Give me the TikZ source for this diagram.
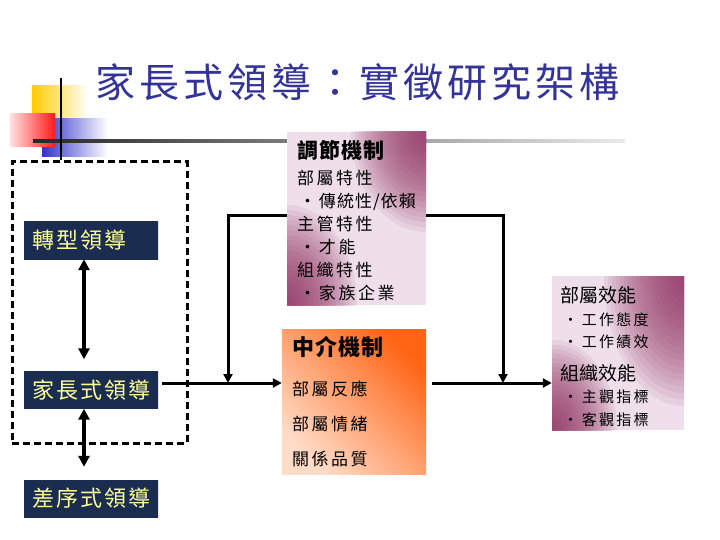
\documentclass[tikz,border=0pt]{standalone}
\usepackage{fontspec}
\setmainfont{Noto Sans CJK TC}
\newfontfamily\cjk{Noto Sans CJK TC}
\newfontfamily\cjkls{Noto Sans CJK TC}[LetterSpace=15]
\newfontfamily\cjkmid{Noto Sans CJK TC}[LetterSpace=10]
\newfontfamily\cjkb{Noto Sans CJK TC}[LetterSpace=5]
\newfontfamily\cjkt{Noto Sans CJK TC}[LetterSpace=6]
\usetikzlibrary{arrows.meta,calc}
\definecolor{titleblue}{HTML}{333399}
\definecolor{navyd}{HTML}{1A2C50}
\definecolor{navyl}{HTML}{6A84A8}
\definecolor{txtyel}{HTML}{FFFF99}
\definecolor{mauved}{HTML}{8E2A5C}
\definecolor{mauvel}{HTML}{EEDFEA}
\definecolor{orangd}{HTML}{FF6414}
\definecolor{orangl}{HTML}{FFDCC8}
\definecolor{decoyel}{HTML}{FFCC00}
\definecolor{decoblue}{HTML}{3333CC}
\definecolor{decored}{HTML}{FF1A1A}
\tikzset{
  leadbox/.style={inner xsep=8pt, inner ysep=0pt, text width=118pt, minimum height=37pt,
    align=left, left color=navyd, middle color=navyl, right color=navyd,
    text=txtyel, font=\cjkmid\fontsize{22}{22}\selectfont},
  mauvebox/.style n args={4}{inner ysep=0pt, align=left, fill=mauvel,
    path picture={
      \foreach \k in {1,...,20}{
        \fill[mauved, opacity=0.08] (path picture bounding box.north east) ellipse ({#1pt*\k/20} and {#2pt*\k/20});
        \fill[mauved, opacity=0.08] (path picture bounding box.south west) ellipse ({#3pt*\k/20} and {#4pt*\k/20});
      }}},
  orangebox/.style={inner ysep=0pt, align=left, top color=orangd, bottom color=orangl,
    shading angle=-45},
  dblarrow/.style={line width=3.5pt, {Triangle[length=11pt,width=11pt]}-{Triangle[length=11pt,width=11pt]}},
  conn/.style={line width=3pt, -{Triangle[length=9pt,width=9pt]}},
}
\begin{document}
\begin{tikzpicture}[x=1pt,y=-1pt]
\useasboundingbox[fill=white] (0,0) rectangle (720,540);
% decoration
\shade[left color=decoyel, middle color=decoyel, right color=white] (32,86) rectangle (88,128);
\shade[left color=decoblue, middle color=decoblue, right color=white] (42,119) rectangle (108,157);
\shade[left color=red!12, right color=decored] (10,114) rectangle (55,147);
\shade[left color=black!85, middle color=black!50, right color=black!8] (33,139.5) rectangle (625,142.5);
\draw[line width=2pt] (61,78) -- (61,160);
% title
\node[text=titleblue, font=\cjkmid\fontsize{40}{40}\selectfont, inner sep=0pt] (title) at (357,82) {家長式領導：實徵研究架構};
% group
\node[draw, line width=3pt, dash pattern=on 7pt off 4pt, minimum width=175pt, minimum height=281pt, inner sep=0pt] (grp) at (99.5,302.5) {};
% leadership boxes
\node[leadbox] (zx) at (91,240.5) {轉型領導};
\node[leadbox] (jz) at (91,390) {家長式領導};
\node[leadbox] (cx) at (91,498.5) {差序式領導};
% moderator
\node[mauvebox={75}{100}{70}{100}, inner xsep=10pt, text width=119pt, minimum height=173pt,
  font=\cjkls\fontsize{17}{23}\selectfont] (tj) at (356.5,218.5)
  {{\cjkb\bfseries\fontsize{21}{21}\selectfont\rule{0pt}{22pt}調節機制}\\[3pt]
   部屬特性\\
   \hspace{2pt}•\hspace{3pt}{\cjkt 傳統性/依賴}\\
   主管特性\\
   \hspace{2pt}•\hspace{3pt}才能\\
   組織特性\\
   \hspace{2pt}•\hspace{3pt}家族企業};
% mediator
\node[orangebox, inner xsep=10pt, text width=124pt, minimum height=145pt,
  font=\cjkls\fontsize{17}{35}\selectfont] (zj) at (354,401.5)
  {{\cjkb\bfseries\fontsize{22}{22}\selectfont 中介機制}\\[5pt]
   部屬反應\\
   部屬情緒\\
   關係品質};
% outcomes
\node[mauvebox={80}{130}{65}{90}, inner xsep=8pt, text width=116pt, minimum height=154pt,
  font=\cjkls\fontsize{15}{22.5}\selectfont] (xn) at (618,353)
  {{\cjk\fontsize{19}{19}\selectfont\rule{0pt}{23pt}部屬效能}\\
   \hspace{3pt}•\hspace{4pt}工作態度\\
   \hspace{3pt}•\hspace{4pt}工作績效\\[10pt]
   {\cjk\fontsize{19}{19}\selectfont 組織效能}\\
   \hspace{3pt}•\hspace{4pt}主觀指標\\
   \hspace{3pt}•\hspace{4pt}客觀指標};
% connectors
\draw[dblarrow] ([xshift=-7pt]zx.south) -- ([xshift=-7pt,yshift=12pt]jz.north);
\draw[dblarrow] ([xshift=-7pt]jz.south) -- ([xshift=-7pt,yshift=13pt]cx.north);
\coordinate (jL) at (228,383);
\coordinate (jR) at (503,383);
\draw[conn, shorten <=4pt] ([yshift=7pt]jz.east) -- ([yshift=7pt]jz.east -| zj.west);
\draw[conn] ([yshift=2.5pt]tj.west) -| (jL);
\draw[conn] ([yshift=2.5pt]tj.east) -| (jR);
\draw[conn, shorten <=6pt] ([yshift=18.5pt]zj.east) -- ([yshift=18.5pt]zj.east -| xn.west);
\end{tikzpicture}
\end{document}
